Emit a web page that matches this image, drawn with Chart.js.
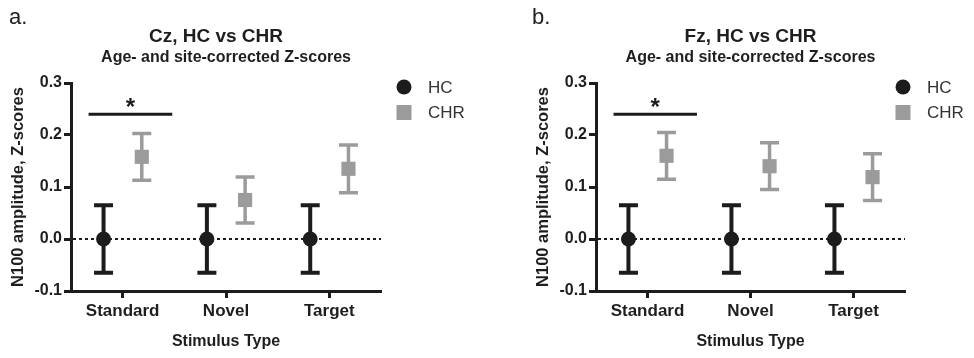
<!DOCTYPE html>
<html>
<head>
<meta charset="utf-8">
<script src="https://cdn.jsdelivr.net/npm/chart.js@4.4.1/dist/chart.umd.min.js"></script>
<style>
  html, body { margin: 0; padding: 0; background: #fff; }
  #wrap { position: relative; width: 974px; height: 358px; overflow: hidden; }
  canvas { position: absolute; top: 0; }
  #panelA { left: 0; }
  #panelB { left: 487px; }
</style>
</head>
<body>
<div id="wrap">
  <canvas id="panelA" width="487" height="358"></canvas>
  <canvas id="panelB" width="487" height="358"></canvas>
</div>
<script>
// values
const categories = ['Standard', 'Novel', 'Target'];
const yTicks = [-0.1, 0.0, 0.1, 0.2, 0.3];
const groups = ['HC', 'CHR'];

// Cz electrode
const czHcMean = [0, 0, 0];
const czHcErr = [0.065, 0.065, 0.065];
const czChrMean = [0.158, 0.075, 0.135];
const czChrErr = [0.045, 0.044, 0.046];

// Fz electrode
const fzHcMean = [0, 0, 0];
const fzHcErr = [0.065, 0.065, 0.065];
const fzChrMean = [0.160, 0.140, 0.119];
const fzChrErr = [0.045, 0.045, 0.045];

// significance bracket over Standard (x in category units, y in Z-score)
const sigSpan = [-0.33, 0.48];
const sigLevel = 0.24;

// styles
const DARK = '#1c1c1c';
const GREY = '#9b9b9b';
const TEXT = '#1e1e1e';
const FONT = "'Liberation Sans', Arial, Helvetica, sans-serif";
const groupShift = 0.185;

Chart.defaults.font.family = FONT;
Chart.defaults.color = TEXT;

const errorBars = {
    id: 'errorBars',
    beforeDatasetsDraw(chart) {
        const { ctx, chartArea, scales: { x, y } } = chart;
        ctx.save();
        // dotted zero line
        const y0 = y.getPixelForValue(0);
        ctx.strokeStyle = DARK;
        ctx.lineWidth = 2;
        ctx.setLineDash([3, 3]);
        ctx.beginPath();
        ctx.moveTo(chartArea.left + 2, y0);
        ctx.lineTo(chartArea.right, y0);
        ctx.stroke();
        ctx.setLineDash([]);

        chart.data.datasets.forEach(ds => {
            if (!ds.errors) return;
            ctx.strokeStyle = ds.backgroundColor;
            ctx.lineWidth = ds.errWidth;
            ds.data.forEach((p, i) => {
                const px = x.getPixelForValue(p.x);
                const top = y.getPixelForValue(p.y + ds.errors[i]);
                const bot = y.getPixelForValue(p.y - ds.errors[i]);
                ctx.beginPath();
                ctx.moveTo(px, top); ctx.lineTo(px, bot);
                ctx.moveTo(px - 9.5, top); ctx.lineTo(px + 9.5, top);
                ctx.moveTo(px - 9.5, bot); ctx.lineTo(px + 9.5, bot);
                ctx.stroke();
            });
        });
        ctx.restore();
    }
};

const decorations = {
    id: 'decorations',
    afterDraw(chart, args, opts) {
        const { ctx, chartArea, scales: { x, y } } = chart;
        const mid = (chartArea.left + chartArea.right) / 2;
        ctx.save();
        ctx.fillStyle = TEXT;
        ctx.textBaseline = 'alphabetic';

        // panel letter
        ctx.textAlign = 'left';
        ctx.font = `22px ${FONT}`;
        ctx.fillText(opts.letter, opts.letterX, 24);

        // title + subtitle
        ctx.textAlign = 'center';
        ctx.font = `bold 19px ${FONT}`;
        ctx.fillText(opts.title, mid + opts.titleShift, 42);
        ctx.font = `bold 16px ${FONT}`;
        ctx.fillText('Age- and site-corrected Z-scores', mid, 62);

        // legend
        const lx = opts.legendX;
        ctx.fillStyle = DARK;
        ctx.beginPath();
        ctx.arc(lx, 87, 7.5, 0, Math.PI * 2);
        ctx.fill();
        ctx.fillStyle = GREY;
        ctx.fillRect(lx - 7.5, 105, 15, 15);
        ctx.fillStyle = '#333';
        ctx.textAlign = 'left';
        ctx.textBaseline = 'middle';
        ctx.font = `17px ${FONT}`;
        ctx.fillText(groups[0], lx + 24, 88);
        ctx.fillText(groups[1], lx + 24, 113);

        // significance bar + star
        const sy = y.getPixelForValue(sigLevel);
        ctx.strokeStyle = DARK;
        ctx.lineWidth = 3;
        ctx.beginPath();
        ctx.moveTo(x.getPixelForValue(sigSpan[0]), sy);
        ctx.lineTo(x.getPixelForValue(sigSpan[1]), sy);
        ctx.stroke();
        ctx.fillStyle = DARK;
        ctx.textAlign = 'center';
        ctx.textBaseline = 'alphabetic';
        ctx.font = `bold 24px ${FONT}`;
        ctx.fillText('*', x.getPixelForValue((sigSpan[0] + sigSpan[1]) / 2), sy + 1);
        ctx.restore();
    }
};

function makePanel(id, hcMean, hcErr, chrMean, chrErr, deco, padLeft, padRight) {
    const hcData = categories.map((c, i) => ({ x: i - groupShift, y: hcMean[i] }));
    const chrData = categories.map((c, i) => ({ x: i + groupShift, y: chrMean[i] }));

    new Chart(document.getElementById(id), {
        type: 'scatter',
        data: {
            datasets: [
                {
                    label: groups[1],
                    data: chrData,
                    errors: chrErr,
                    errWidth: 3.5,
                    backgroundColor: GREY,
                    borderWidth: 0,
                    pointStyle: 'rect',
                    pointRadius: 10,
                    pointHoverRadius: 10
                },
                {
                    label: groups[0],
                    data: hcData,
                    errors: hcErr,
                    errWidth: 4,
                    backgroundColor: DARK,
                    borderWidth: 0,
                    pointStyle: 'circle',
                    pointRadius: 7.5,
                    pointHoverRadius: 7.5
                }
            ]
        },
        options: {
            responsive: false,
            animation: false,
            layout: { padding: { left: padLeft, right: padRight, top: 83, bottom: 0 } },
            plugins: {
                legend: { display: false },
                tooltip: { enabled: false },
                decorations: deco
            },
            scales: {
                x: {
                    type: 'linear',
                    min: -0.5,
                    max: 2.5,
                    afterBuildTicks: s => { s.ticks = categories.map((c, i) => ({ value: i })); },
                    afterFit: s => { s.height = 67; },
                    ticks: {
                        callback: v => categories[v],
                        color: TEXT,
                        font: { size: 17, weight: 'bold' },
                        padding: 3,
                        maxRotation: 0,
                        autoSkip: false
                    },
                    grid: { drawOnChartArea: false, tickLength: 7, tickWidth: 3, tickColor: DARK },
                    border: { width: 3, color: DARK },
                    title: {
                        display: true,
                        text: 'Stimulus Type',
                        color: TEXT,
                        font: { size: 16, weight: 'bold' },
                        padding: { top: 0, bottom: 7 }
                    }
                },
                y: {
                    min: -0.1,
                    max: 0.3,
                    afterBuildTicks: s => { s.ticks = yTicks.map(v => ({ value: v })); },
                    afterFit: s => { s.width = 71; },
                    ticks: {
                        callback: v => v.toFixed(1),
                        color: TEXT,
                        font: { size: 16, weight: 'bold' },
                        padding: 2
                    },
                    grid: { drawOnChartArea: false, tickLength: 7, tickWidth: 3, tickColor: DARK },
                    border: { width: 3, color: DARK },
                    title: {
                        display: true,
                        text: 'N100 amplitude, Z-scores',
                        color: TEXT,
                        font: { size: 16.5, weight: 'bold' },
                        padding: { top: 9, bottom: 0 }
                    }
                }
            }
        },
        plugins: [errorBars, decorations]
    });
}

makePanel('panelA', czHcMean, czHcErr, czChrMean, czChrErr,
    { letter: 'a.', letterX: 9, title: 'Cz, HC vs CHR', titleShift: -10, legendX: 404 }, 0, 106);
makePanel('panelB', fzHcMean, fzHcErr, fzChrMean, fzChrErr,
    { letter: 'b.', letterX: 45, title: 'Fz, HC vs CHR', titleShift: 0, legendX: 416 }, 38, 69);
</script>
</body>
</html>
